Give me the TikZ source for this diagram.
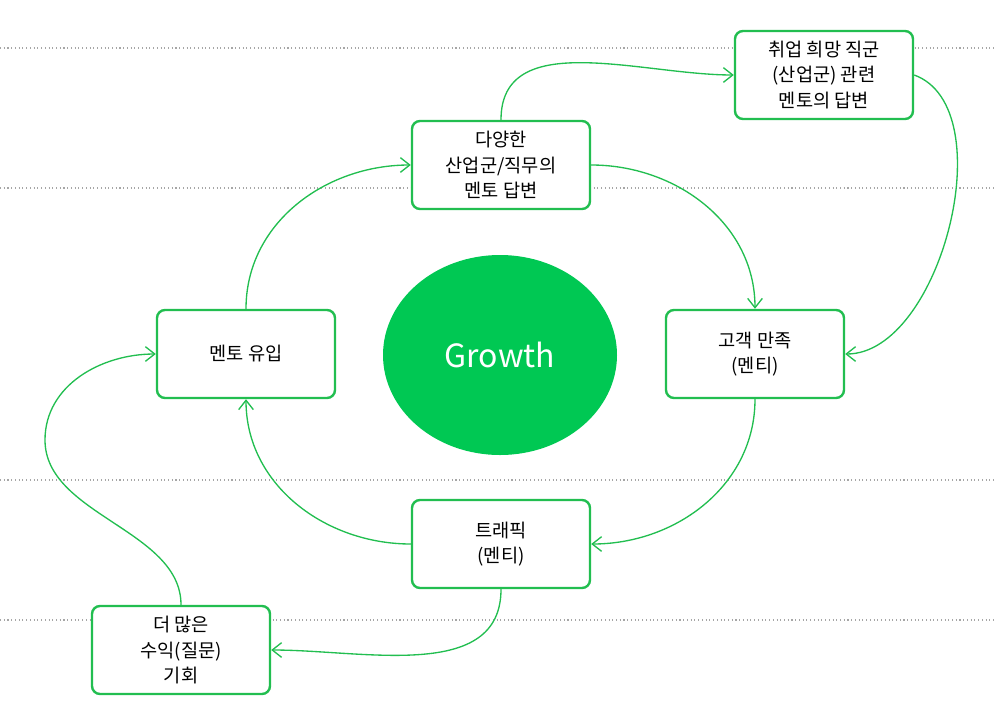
\documentclass[tikz,border=0pt]{standalone}
\usepackage{fontspec}
\setmainfont{Noto Sans CJK KR}
\usetikzlibrary{arrows.meta,shapes.geometric}
\definecolor{gb}{RGB}{34,190,80}
\definecolor{gf}{RGB}{0,200,83}
\tikzset{
 box/.style={draw=gb,line width=1.8pt,rounded corners=6pt,minimum width=133.5pt,minimum height=66pt,align=center,font=\fontsize{14}{19}\selectfont,fill=white},
 conn/.style={draw=gb,line width=1pt,-{Straight Barb[length=7pt,width=11pt]}},
 grid/.style={draw=gray!70,dotted,line width=0.8pt}
}
\begin{document}
\begin{tikzpicture}[x=0.75pt,y=-0.75pt]
\useasboundingbox (0,0) rectangle (996,725);
\foreach \yy in {48,188,480,620} \draw[grid] (0,\yy) -- (996,\yy);
\node[draw=none,fill=gf,ellipse,minimum width=175.5pt,minimum height=150pt,text=white,font=\fontsize{24}{28}\selectfont] (g) at (500,355) {Growth};
\node[box] (tr) at (824,75) {취업 희망 직군\\(산업군) 관련\\멘토의 답변};
\node[box] (tc) at (501,165) {다양한\\산업군/직무의\\멘토 답변};
\node[box] (l) at (246,354) {멘토 유입};
\node[box] (r) at (755,354) {고객 만족\\(멘티)};
\node[box] (b) at (501,544) {트래픽\\(멘티)};
\node[box] (bl) at (181,650) {더 많은\\수익(질문)\\기회};
\coordinate (k) at (45,440);
\draw[conn] (l.north) to[out=90,in=180] (tc.west);
\draw[conn] (tc.east) to[out=0,in=90] (r.north);
\draw[conn] (r.south) to[out=-90,in=0] (b.east);
\draw[conn] (b.west) to[out=180,in=-90] (l.south);
\draw[conn] (tc.north) to[out=90,in=180] (tr.west);
\draw[conn] (tr.east) to[out=-20,in=0,looseness=0.85] (r.east);
\draw[conn] (b.south) to[out=-90,in=0] (bl.east);
\draw[conn] (bl.north) to[out=90,in=-90,looseness=0.9] (k) to[out=90,in=180] (l.west);
\end{tikzpicture}
\end{document}
